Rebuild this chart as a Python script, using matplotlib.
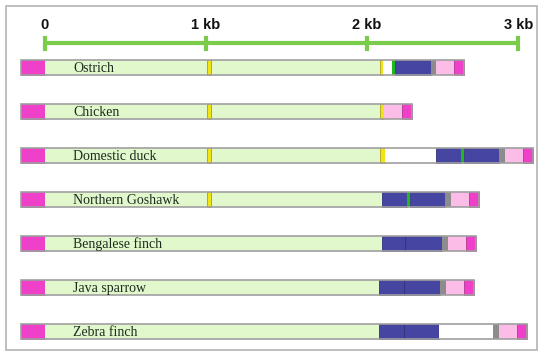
import matplotlib
matplotlib.use("Agg")
import matplotlib.pyplot as plt
from matplotlib.patches import Rectangle

# species, top to bottom
species = ["Ostrich", "Chicken", "Domestic duck", "Northern Goshawk",
           "Bengalese finch", "Java sparrow", "Zebra finch"]

# segments in kb: (start, end, kind)
ostrich = [(-0.149, 0.0, "mag"), (0.0, 2.081, "lg"), (2.081, 2.099, "yel"),
           (2.099, 2.155, "wh"), (2.155, 2.174, "grn"), (2.174, 2.398, "blu"),
           (2.398, 2.429, "gry"), (2.429, 2.540, "pnk"), (2.540, 2.602, "mag")]
chicken = [(-0.149, 0.0, "mag"), (0.0, 2.081, "lg"), (2.081, 2.106, "yel"),
           (2.106, 2.217, "pnk"), (2.217, 2.280, "mag")]
duck = [(-0.149, 0.0, "mag"), (0.0, 2.081, "lg"), (2.081, 2.112, "yel"),
        (2.112, 2.429, "wh"), (2.429, 2.584, "blu"), (2.584, 2.602, "grn"),
        (2.602, 2.820, "blu"), (2.820, 2.857, "gry"), (2.857, 2.969, "pnk"),
        (2.969, 3.031, "mag")]
goshawk = [(-0.149, 0.0, "mag"), (0.0, 2.093, "lg"), (2.093, 2.248, "blu"),
           (2.248, 2.267, "grn"), (2.267, 2.484, "blu"), (2.484, 2.522, "gry"),
           (2.522, 2.634, "pnk"), (2.634, 2.696, "mag")]
bengalese = [(-0.149, 0.0, "mag"), (0.0, 2.093, "lg"), (2.093, 2.236, "blu"),
             (2.236, 2.466, "blu"), (2.466, 2.503, "gry"), (2.503, 2.615, "pnk"),
             (2.615, 2.677, "mag")]
java = [(-0.149, 0.0, "mag"), (0.0, 2.075, "lg"), (2.075, 2.230, "blu"),
        (2.230, 2.453, "blu"), (2.453, 2.491, "gry"), (2.491, 2.602, "pnk"),
        (2.602, 2.665, "mag")]
zebra = [(-0.149, 0.0, "mag"), (0.0, 2.075, "lg"), (2.075, 2.230, "blu"),
         (2.230, 2.447, "blu"), (2.447, 2.783, "wh"), (2.783, 2.820, "gry"),
         (2.820, 2.932, "pnk"), (2.932, 2.994, "mag")]
rows = [ostrich, chicken, duck, goshawk, bengalese, java, zebra]

# small yellow mark near 1 kb (first four species)
mark_start = 1.006
mark_end = 1.031
has_mark = [True, True, True, True, False, False, False]

tick_pos = [0, 1.0, 2.0, 2.94]
tick_labels = ["0", "1 kb", "2 kb", "3 kb"]

colors = {"mag": "#ee40c8", "lg": "#e0f8cc", "yel": "#f2e414", "wh": "#ffffff",
          "grn": "#1fb81f", "blu": "#4646a2", "gry": "#8c8c8c", "pnk": "#fcbce8"}
edges = {"blu": "#30307a", "yel": "#a8a020", "mag": "#b03090"}

fig = plt.figure(figsize=(5.38, 3.54), dpi=100)
ax = fig.add_axes([0, 0, 1, 1])
ax.set_xlim(-45 / 161, 493 / 161)
ax.set_ylim(287 / 44, -67 / 44)
ax.axis("off")

h = 15 / 44
for i, segs in enumerate(rows):
    for s, e, kind in segs:
        ax.add_patch(Rectangle((s, i - h / 2), e - s, h, facecolor=colors[kind],
                               edgecolor=edges.get(kind, "none"), lw=0.6, zorder=2))
    if has_mark[i]:
        ax.add_patch(Rectangle((mark_start, i - h / 2), mark_end - mark_start, h,
                               facecolor=colors["yel"], edgecolor=edges["yel"],
                               lw=0.6, zorder=3))
    # outline of the whole bar
    ax.add_patch(Rectangle((segs[0][0], i - h / 2), segs[-1][1] - segs[0][0], h,
                           facecolor="none", edgecolor="#a0a0a0", lw=1.2, zorder=4))
    ax.text(0.174, i - 0.01, species[i], family="Liberation Serif", fontsize=10,
            color="#1e2a1e", va="center_baseline", ha="left", zorder=5)

# scale bar
sy = -24 / 44
ax.plot([tick_pos[0], tick_pos[-1]], [sy, sy], color="#7ccc4c", lw=3,
        solid_capstyle="butt", zorder=2)
for p, lab in zip(tick_pos, tick_labels):
    ax.plot([p, p], [sy - 0.125, sy + 0.125], color="#7ccc4c", lw=3, zorder=2)
    ax.text(p, -42 / 44, lab, ha="center", va="center", fontsize=10.5,
            fontweight="bold", family="Liberation Sans", color="#111111")

# light frame around the picture
fig.patches.append(Rectangle((6 / 538, 4 / 354), 531 / 538, 344 / 354,
                             transform=fig.transFigure, facecolor="none",
                             edgecolor="#b4b4b4", lw=1.2))

fig.savefig("out.png", dpi=100)
